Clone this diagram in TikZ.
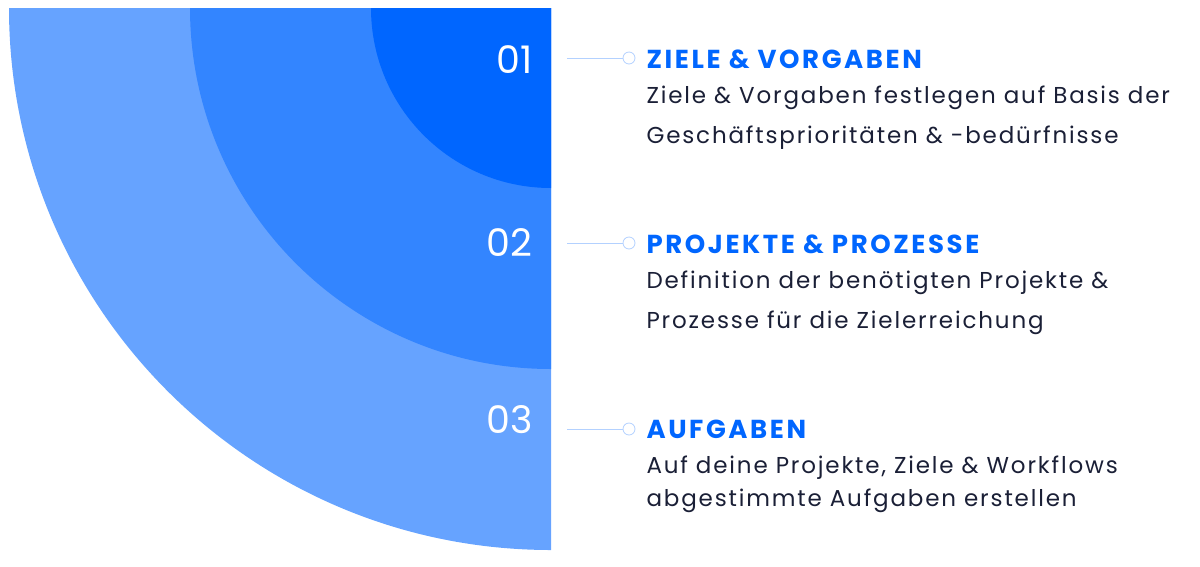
\documentclass[tikz,border=0pt]{standalone}
\usepackage{fontspec}
\setmainfont{Poppins}
\newfontfamily\bodyf[LetterSpace=8]{Poppins}
\newfontfamily\headf[LetterSpace=10]{Poppins}
\definecolor{c1}{HTML}{0066FF}
\definecolor{c2}{HTML}{3385FF}
\definecolor{c3}{HTML}{66A3FF}
\definecolor{ln}{HTML}{B3D1FF}
\definecolor{tx}{HTML}{1A1F36}
\begin{document}
\begin{tikzpicture}[x=1pt,y=-1pt,
  num/.style={text=white,font=\fontsize{38}{38}\selectfont,anchor=east},
  head/.style={text=c1,font=\headf\fontsize{26}{26}\selectfont\bfseries,anchor=west},
  body/.style={text=tx,font=\bodyf\fontsize{23}{40}\selectfont,anchor=north west,align=left},
  dot/.style={circle,draw=ln,fill=white,line width=0.8pt,minimum size=12pt,inner sep=0pt}]
\useasboundingbox (0,0) rectangle (1200,566);
\fill[c3] (551,8) -- (9,8) arc[start angle=180,end angle=90,radius=542] -- cycle;
\fill[c2] (551,8) -- (190,8) arc[start angle=180,end angle=90,radius=361] -- cycle;
\fill[c1] (551,8) -- (371,8) arc[start angle=180,end angle=90,radius=180] -- cycle;
\node[num] (n1) at (536,60) {01};
\node[num] (n2) at (536,243) {02};
\node[num] (n3) at (536,420) {03};
\coordinate (s1) at (567,58); \coordinate (s2) at (567,243); \coordinate (s3) at (567,429);
\node[dot] (d1) at (629,58) {};
\node[dot] (d2) at (629,243) {};
\node[dot] (d3) at (629,429) {};
\draw[ln,line width=0.8pt] (s1) -- (d1); \draw[ln,line width=0.8pt] (s2) -- (d2); \draw[ln,line width=0.8pt] (s3) -- (d3);
\node[head] (h1) at (643,59) {ZIELE \& VORGABEN};
\node[head] (h2) at (643,244) {PROJEKTE \& PROZESSE};
\node[head] (h3) at (643,429) {AUFGABEN};
\node[body] (b1) at (643,82) {Ziele \& Vorgaben festlegen auf Basis der\\Geschäftsprioritäten \& -bedürfnisse};
\node[body] (b2) at (643,267) {Definition der benötigten Projekte \&\\Prozesse für die Zielerreichung};
\node[body,font=\bodyf\fontsize{23}{33}\selectfont] (b3) at (643,452) {Auf deine Projekte, Ziele \& Workflows\\abgestimmte Aufgaben erstellen};
\end{tikzpicture}
\end{document}
